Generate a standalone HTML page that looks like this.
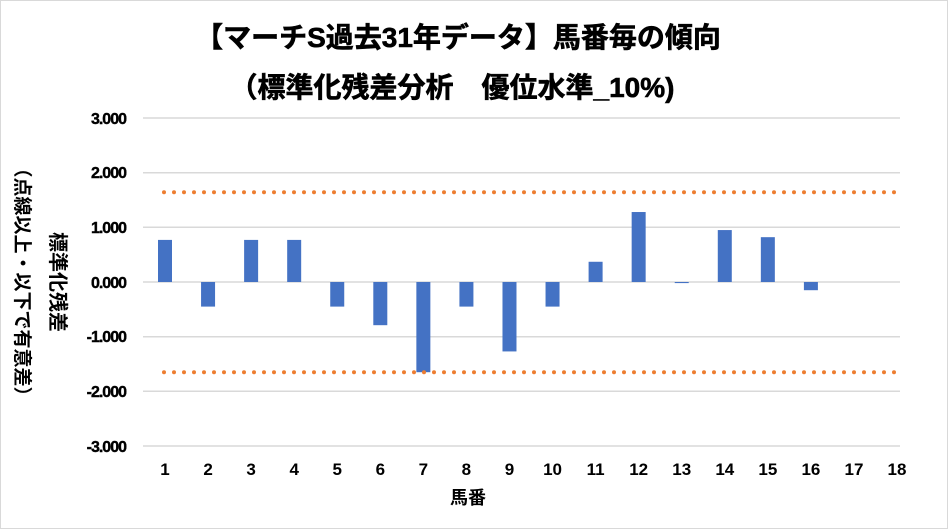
<!DOCTYPE html>
<html><head><meta charset="utf-8"><style>
body{margin:0;background:#fff;}
.f{font-family:"Liberation Sans","Noto Sans CJK JP",sans-serif;font-weight:bold;}
</style></head><body>
<div style="position:relative;width:949px;height:530px;overflow:hidden;">
<svg width="949" height="530" xmlns="http://www.w3.org/2000/svg" class="f">
<rect x="0.5" y="0.5" width="947" height="528" fill="#fff" stroke="#d9d9d9"/>
<text x="458" y="47" font-size="28" text-anchor="middle" fill="#000" stroke="#000" stroke-width="0.6">【マーチS過去31年データ】馬番毎の傾向</text>
<text x="452" y="97" font-size="28" text-anchor="middle" fill="#000" stroke="#000" stroke-width="0.6">（標準化残差分析　優位水準_10%)</text>
<g stroke="#d9d9d9" stroke-width="1.5">
<line x1="143" x2="900" y1="118" y2="118"/><line x1="143" x2="900" y1="172.7" y2="172.7"/>
<line x1="143" x2="900" y1="227.3" y2="227.3"/><line x1="143" x2="900" y1="282" y2="282"/>
<line x1="143" x2="900" y1="336.7" y2="336.7"/><line x1="143" x2="900" y1="391.3" y2="391.3"/>
<line x1="143" x2="900" y1="446" y2="446"/></g>
<g font-size="16" text-anchor="end" fill="#000" letter-spacing="-1" stroke="#000" stroke-width="0.4">
<text x="126" y="124">3.000</text><text x="126" y="178">2.000</text><text x="126" y="233">1.000</text>
<text x="126" y="288">0.000</text><text x="126" y="342">-1.000</text><text x="126" y="397">-2.000</text><text x="126" y="452">-3.000</text></g>
<g fill="#4472c4" id="bars"></g>
<g stroke="#ed7d31" stroke-width="4" stroke-linecap="round" stroke-dasharray="0 10">
<line x1="164" x2="898" y1="192.3" y2="192.3"/><line x1="164" x2="898" y1="372.3" y2="372.3"/></g>
<g font-size="17" text-anchor="middle" fill="#000" id="xl"></g>
<text x="468" y="504" font-size="18" text-anchor="middle">馬番</text>
<text transform="translate(51,282) rotate(90)" font-size="20" text-anchor="middle">標準化残差</text>
<text transform="translate(16,282) rotate(90)" font-size="19" text-anchor="middle">（点線以上・以下で有意差）</text>
</svg>
<script>
var v=[0.77,-0.45,0.77,0.77,-0.45,-0.79,-1.65,-0.45,-1.27,-0.45,0.37,1.28,-0.02,0.95,0.82,-0.15,0,0];
var b=document.getElementById('bars'),xl=document.getElementById('xl'),ns='http://www.w3.org/2000/svg';
for(var i=0;i<18;i++){var cx=165+i*43.06;
if(v[i]!=0){var r=document.createElementNS(ns,'rect');var h=Math.abs(v[i])*54.67;
r.setAttribute('x',cx-7);r.setAttribute('width',14);r.setAttribute('y',v[i]>0?282-h:282);r.setAttribute('height',Math.max(h,1));b.appendChild(r);}
var t=document.createElementNS(ns,'text');t.setAttribute('x',cx);t.setAttribute('y',475);t.textContent=i+1;xl.appendChild(t);}
</script>
</div></body></html>
